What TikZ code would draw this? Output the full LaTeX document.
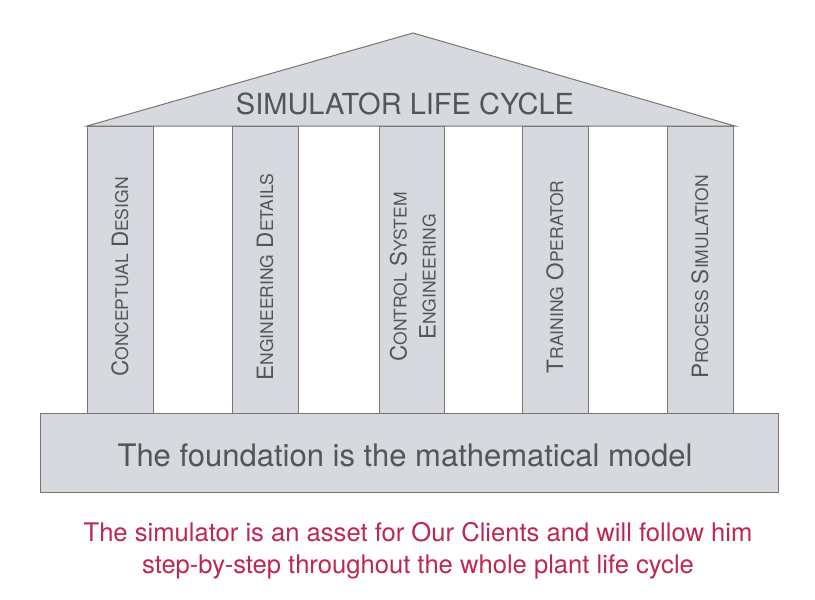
\documentclass[tikz,border=0pt]{standalone}
\usepackage{fontspec}
\setmainfont{TeX Gyre Heros}
\definecolor{fillg}{RGB}{214,217,221}
\definecolor{lineg}{RGB}{125,115,115}
\definecolor{txtg}{RGB}{85,85,85}
\definecolor{redt}{RGB}{192,38,82}
\newcommand\pc[2]{{\fontsize{22.5}{29}\selectfont #1}{\fontsize{17.5}{29}\selectfont #2}}
\begin{document}
\begin{tikzpicture}[x=1pt,y=-1pt,
  part/.style={fill=fillg,draw=lineg,line width=1pt,line join=miter},
  ptext/.style={rotate=90,text=txtg,align=center,inner sep=0pt,font=\fontsize{22.5}{29}\selectfont}]
\useasboundingbox[fill=white] (0,0) rectangle (815,600);
% pillars
\draw[part] (87,126) rectangle (153,413);
\draw[part] (232,126) rectangle (298,413);
\draw[part] (379,126) rectangle (444,413);
\draw[part] (522,126) rectangle (588,413);
\draw[part] (667,126) rectangle (733,413);
% base
\draw[part] (40,413) rectangle (778,492);
% roof
\draw[part] (87,126) -- (413,33) -- (735,126) -- cycle;
% texts
\node[text=txtg,font=\fontsize{29}{30}\selectfont] (roof) at (405,104) {SIMULATOR LIFE CYCLE};
\node[text=txtg,font=\fontsize{31}{32}\selectfont] (base) at (405,455) {The foundation is the mathematical model};
\node[ptext] (p1) at (120,277) {\pc{C}{ONCEPTUAL} \pc{D}{ESIGN}};
\node[ptext] (p2) at (265,277) {\pc{E}{NGINEERING} \pc{D}{ETAILS}};
\node[ptext] (p3) at (413,277) {\pc{C}{ONTROL} \pc{S}{YSTEM}\\\pc{E}{NGINEERING}};
\node[ptext] (p4) at (555,277) {\pc{T}{RAINING} \pc{O}{PERATOR}};
\node[ptext] (p5) at (700,277) {\pc{P}{ROCESS} \pc{S}{IMULATION}};
\node[text=redt,align=center,font=\fontsize{25.6}{32}\selectfont] (note) at (418,551)
  {The simulator is an asset for Our Clients and will follow him\\step-by-step throughout the whole plant life cycle};
\end{tikzpicture}
\end{document}
